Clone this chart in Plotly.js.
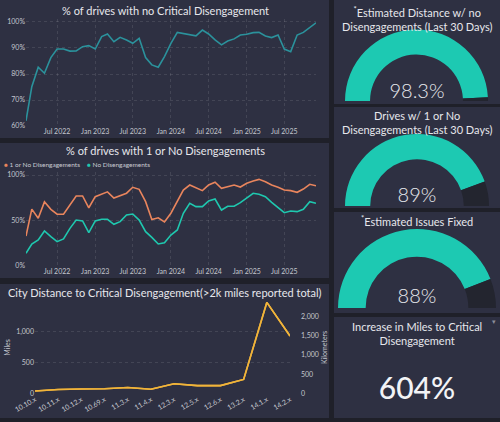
<!DOCTYPE html>
<html><head><meta charset="utf-8">
<script src="https://cdn.plot.ly/plotly-3.0.1.min.js"></script>
<style>html,body{margin:0;padding:0;background:#1f2029;}#chart{width:500px;height:422px;}</style>
</head><body><div id="chart"></div>
<script>
// ---------------- data ----------------
const months = ['2022-02','2022-03','2022-04','2022-05','2022-06','2022-07','2022-08','2022-09','2022-10','2022-11','2022-12',
  '2023-01','2023-02','2023-03','2023-04','2023-05','2023-06','2023-07','2023-08','2023-09','2023-10','2023-11','2023-12',
  '2024-01','2024-02','2024-03','2024-04','2024-05','2024-06','2024-07','2024-08','2024-09','2024-10','2024-11','2024-12',
  '2025-01','2025-02','2025-03','2025-04','2025-05','2025-06','2025-07','2025-08','2025-09','2025-10','2025-11','2025-12'];
const noCriticalPct = [62, 75.1, 82.6, 80.3, 86.3, 89.6, 89.6, 88.8, 88.9, 90.5, 90.9,
  89.6, 94.4, 95.4, 92.4, 94.1, 93.1, 91.8, 93.7, 86.3, 83.5, 82.6, 86.7,
  91.8, 96, 95.6, 95, 94.7, 96.9, 95.4, 93.1, 91.2, 92.7, 93.5, 95,
  95.3, 95.9, 96, 94.6, 94, 95, 89.6, 88.6, 95, 96, 98, 99.7];
const oneOrNonePct = [33, 62.5, 52.5, 70.5, 62.3, 57, 56.8, 67.5, 77, 77, 64,
  76.2, 78.8, 81.5, 74.6, 77.3, 80, 86.5, 84.3, 70.7, 51, 53, 48.5,
  58, 70.7, 83.5, 89, 86, 82.8, 89, 92, 85.4, 87.2, 89, 86.8,
  90.9, 93.4, 95.2, 92.6, 89, 86.5, 83.5, 82.8, 81, 84.6, 89.8, 88.2];
const noDisengPct = [14, 24.2, 28.6, 38.5, 32.2, 26.7, 29.7, 41.4, 50.5, 49.5, 36.6,
  49.5, 51.3, 51.3, 45.8, 48.7, 56, 57.1, 50.5, 37.7, 31.5, 24.2, 25.6,
  34, 39.6, 57.9, 68.9, 65.2, 65.2, 71.4, 73.6, 61.5, 65.6, 65.6, 69.6,
  75.1, 79.9, 78.8, 76.2, 70, 64.1, 58.6, 60.4, 59.7, 62.3, 70.7, 68.9];
const seriesNames = ['1 or No Disengagements', 'No Disengagements'];
const fsdVersions = ['10.10.x','10.11.x','10.12.x','10.69.x','11.3.x','11.4.x','12.3.x','12.5.x','12.6.x','13.2.x','14.1.x','14.2.x'];
const milesToCritical = [37, 62, 70, 75, 95, 65, 155, 125, 125, 225, 1475, 930];
const KM_PER_MILE = 1.60934;
const milesTicks = [0, 500, 1000];
const kmTicks = [0, 500, 1000, 1500, 2000];
const gaugeTitles = ['<sup>*</sup>Estimated Distance w/ no<br>Disengagements (Last 30 Days)',
  'Drives w/ 1 or No<br>Disengagements (Last 30 Days)',
  '<sup>*</sup>Estimated Issues Fixed'];
const gaugeValues = [98.3, 89, 88];
const gaugeFormats = ['.1f', '.0f', '.0f'];
const increaseTitle = 'Increase in Miles to Critical<br>Disengagement';
const increaseValue = 604;
const chartTitles = ['% of drives with no Critical Disengagement',
  '% of drives with 1 or No Disengagements',
  'City Distance to Critical Disengagement(>2k miles reported total)'];

// ---------------- style ----------------
const W = 500, H = 422;
const fx = p => p / W, fy = p => 1 - p / H;
const BG = '#1f2029', PANEL = '#2e3042';
const TEAL1 = '#2b929c', TEAL2 = '#1fc8af', ORANGE = '#e9855d', GOLD = '#f1b43a';
const GAUGE = '#1dc9b2', REM = '#23252f';
const FONT = 'Lato, "Open Sans", sans-serif';
const tickFont = {family: FONT, size: 7, color: '#c4c6ce'};
const titleFont = {family: FONT, size: 11, color: '#e6e7ec'};
const GRID = 'rgba(255,255,255,0.10)';
const fmt = v => v.toLocaleString('en-US');

const panels = [
  [0, 0, 329, 138], [0, 143, 329, 278], [0, 284, 329, 418],
  [334, 0, 500, 104], [334, 107, 500, 208], [334, 212, 500, 313], [334, 317, 500, 418]
];
const shapes = panels.map(p => ({type: 'rect', xref: 'paper', yref: 'paper', layer: 'below',
  x0: fx(p[0]), x1: fx(p[2]), y0: fy(p[3]), y1: fy(p[1]), fillcolor: PANEL, line: {width: 0}}));

const traces = [];
traces.push({type: 'scatter', mode: 'lines', x: months, y: noCriticalPct, xaxis: 'x', yaxis: 'y',
  line: {color: TEAL1, width: 1.6}, showlegend: false, hoverinfo: 'skip'});
traces.push({type: 'scatter', mode: 'lines', x: months, y: oneOrNonePct, xaxis: 'x2', yaxis: 'y2', name: seriesNames[0],
  line: {color: ORANGE, width: 1.6}, showlegend: false, hoverinfo: 'skip'});
traces.push({type: 'scatter', mode: 'lines', x: months, y: noDisengPct, xaxis: 'x2', yaxis: 'y2', name: seriesNames[1],
  line: {color: TEAL2, width: 1.6}, showlegend: false, hoverinfo: 'skip'});
// same distances in kilometres on the right-hand axis (coincides with the miles line)
traces.push({type: 'scatter', mode: 'lines', x: fsdVersions, y: milesToCritical.map(m => m * KM_PER_MILE), xaxis: 'x3', yaxis: 'y4', name: 'Kilometers',
  line: {color: GOLD, width: 1.6}, showlegend: false, hoverinfo: 'skip'});
traces.push({type: 'scatter', mode: 'lines', x: fsdVersions, y: milesToCritical, xaxis: 'x3', yaxis: 'y3', name: 'Miles',
  line: {color: GOLD, width: 1.6}, showlegend: false, hoverinfo: 'skip'});

const gaugeGeom = [[416.5, 101, 71.5], [417, 206, 72], [417, 308, 79]];
const numberY = [89.5, 193.5, 295];
gaugeValues.forEach((v, i) => {
  const [cx, cy, r] = gaugeGeom[i];
  traces.push({type: 'pie', values: [v, 100 - v, 100], sort: false, direction: 'clockwise', rotation: -90, hole: 0.65,
    marker: {colors: [GAUGE, REM, 'rgba(0,0,0,0)'], line: {width: 0}}, textinfo: 'none', hoverinfo: 'skip',
    showlegend: false, domain: {x: [fx(cx - r), fx(cx + r)], y: [fy(cy + r), fy(cy - r)]}});
  traces.push({type: 'indicator', mode: 'number', value: v,
    number: {suffix: '%', valueformat: gaugeFormats[i], font: {family: FONT, size: 20, color: '#e9eaee', weight: 300}},
    domain: {x: [fx(350), fx(484)], y: [fy(numberY[i] + 12), fy(numberY[i] - 12)]}});
});
traces.push({type: 'indicator', mode: 'number', value: increaseValue,
  number: {suffix: '%', valueformat: '.0f', font: {family: FONT, size: 30, color: '#f2f3f6', weight: 500}},
  domain: {x: [fx(350), fx(484)], y: [fy(387 + 18), fy(387 - 18)]}});

const commonAx = {showline: false, zeroline: false, ticks: '', tickfont: tickFont, gridcolor: GRID, griddash: 'dot', fixedrange: true};

const annotations = [];
const addText = (text, x, y, font, xanchor) => annotations.push({text, x: fx(x), y: fy(y), xref: 'paper', yref: 'paper',
  showarrow: false, xanchor: xanchor || 'center', yanchor: 'middle', font, align: 'center'});
addText(chartTitles[0], 165, 11, titleFont);
addText(chartTitles[1], 165, 150, titleFont);
addText(chartTitles[2], 165, 292, titleFont);
addText('<span style="color:' + ORANGE + '">●</span> ' + seriesNames[0], 2, 164, {family: FONT, size: 6.5, color: '#c9cbd3'}, 'left');
addText('<span style="color:' + TEAL2 + '">●</span> ' + seriesNames[1], 85, 164, {family: FONT, size: 6.5, color: '#c9cbd3'}, 'left');
addText(gaugeTitles[0], 417, 19, titleFont);
addText(gaugeTitles[1], 417, 122, titleFont);
addText(gaugeTitles[2], 417, 220, titleFont);
addText(increaseTitle, 417, 333, titleFont);
addText('▾', 494, 322, {family: 'DejaVu Sans', size: 7, color: '#8b8d99'});

const y3dom = [fy(393.3), fy(301.5)];
const layout = {
  width: W, height: H, autosize: false, margin: {l: 0, r: 0, t: 0, b: 0},
  paper_bgcolor: BG, plot_bgcolor: 'rgba(0,0,0,0)', showlegend: false,
  font: {family: FONT, color: '#c4c6ce'},
  shapes, annotations,
  xaxis: Object.assign({}, commonAx, {domain: [fx(26), fx(316)], anchor: 'y', type: 'date',
    range: ['2022-02-01', '2025-12-01'], tick0: '2022-01-01', dtick: 'M6', tickformat: '%b %Y'}),
  yaxis: Object.assign({}, commonAx, {domain: [fy(126), fy(19)], anchor: 'x', range: [60, 101.15], dtick: 10, ticksuffix: '%'}),
  xaxis2: Object.assign({}, commonAx, {domain: [fx(26), fx(316)], anchor: 'y2', type: 'date',
    range: ['2022-02-01', '2025-12-01'], tick0: '2022-01-01', dtick: 'M6', tickformat: '%b %Y'}),
  yaxis2: Object.assign({}, commonAx, {domain: [fy(266), fy(172)], anchor: 'x2', range: [0, 103.3], dtick: 50, ticksuffix: '%'}),
  xaxis3: Object.assign({}, commonAx, {domain: [fx(35), fx(290)], anchor: 'y3', type: 'category', range: [0, 11],
    tickangle: -30, showgrid: false}),
  yaxis3: Object.assign({}, commonAx, {domain: y3dom, anchor: 'x3', side: 'left', range: [0, 1490],
    tickmode: 'array', tickvals: milesTicks, ticktext: milesTicks.map(fmt), showgrid: true,
    title: {text: 'Miles', font: {family: FONT, size: 7, color: '#c4c6ce'}, standoff: 4}}),
  yaxis4: Object.assign({}, commonAx, {domain: y3dom, anchor: 'x3', side: 'right', range: [0, 1490 * KM_PER_MILE],
    tickmode: 'array', tickvals: kmTicks, ticktext: kmTicks.map(fmt), showgrid: false, ticklabelstandoff: 10,
    title: {text: 'Kilometers', font: {family: FONT, size: 7, color: '#c4c6ce'}, standoff: 4}})
};

Plotly.newPlot('chart', traces, layout, {staticPlot: true, displayModeBar: false});
</script></body></html>
